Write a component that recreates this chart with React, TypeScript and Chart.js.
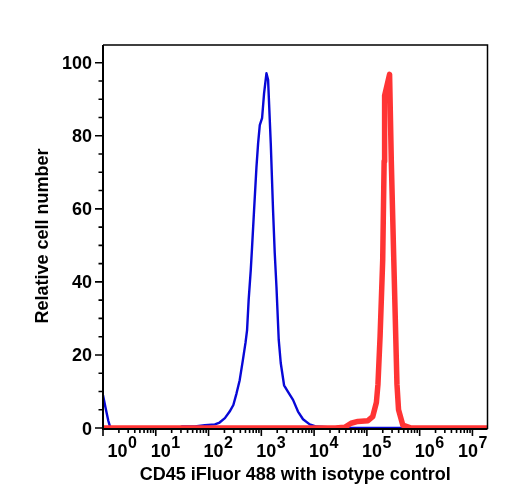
import { useEffect, useRef } from 'react';
import { Chart, registerables } from 'chart.js';

Chart.register(...registerables);

// Blue histogram (CD45 iFluor 488 isotype control) – fluorescence intensity vs relative cell number
const blueX = [1, 1.12, 1.26, 1.35, 1.46, 7.9, 28, 31, 55, 85, 132, 162, 204, 251, 295, 339, 389, 447, 501, 537, 575, 631, 668, 729, 809, 869, 935, 1033, 1127, 1250, 1343, 1510, 1667, 1795, 1936, 2138, 2333, 2698, 3206, 3990, 4955, 6166, 8260, 11040, 18070, 38000, 19300000];
const blueY = [9.0, 5.5, 2.0, 0.5, 0, 0, 0.1, 0.4, 0.4, 0.8, 1.0, 1.5, 2.7, 4.5, 6.3, 9.5, 13.1, 18.6, 23.3, 26.8, 35, 43.3, 49.6, 59.7, 71.5, 77.9, 82.9, 84.8, 91.6, 97.1, 95.3, 77.9, 59.7, 47.9, 38.6, 24.1, 17.8, 11.7, 9.9, 7.7, 4.5, 2.4, 1.0, 0.4, 0.2, 0, 0];

// Red histogram (CD45 stained)
const redX = [1, 25120, 38020, 50120, 67600, 104700, 128800, 151400, 162200, 177800, 199500, 212300, 216800, 269200, 290400, 323600, 371500, 398100, 478600, 691800, 19300000];
const redY = [0, 0, 0.2, 1.3, 1.8, 2.0, 3.1, 7, 12, 25, 46, 73, 91, 96.8, 73, 46, 12, 5, 0.8, 0, 0];

const xDecades = [0, 1, 2, 3, 4, 5, 6, 7];
const xMinorMultipliers = [2, 3, 4, 5, 6, 7, 8, 9];
const yMajorTicks = [0, 20, 40, 60, 80, 100];
const yMinorTicks = [5, 10, 15, 25, 30, 35, 45, 50, 55, 65, 70, 75, 85, 90, 95];

const xTitle = 'CD45 iFluor 488 with isotype control';
const yTitle = 'Relative cell number';

const X_MIN = 1;
const X_MAX = 19300000;
const Y_MIN = -0.27;
const Y_MAX = 104.85;

const FONT = '"Liberation Sans", Arial, Helvetica, sans-serif';

const axesPlugin = {
  id: 'axesDecor',
  afterDatasetsDraw(chart: any) {
    const { ctx, chartArea: a, scales } = chart;
    const xs = scales.x;
    const ys = scales.y;
    ctx.save();
    ctx.strokeStyle = '#000';
    ctx.fillStyle = '#000';

    // frame top/right
    ctx.lineWidth = 1.5;
    ctx.beginPath();
    ctx.moveTo(a.left, a.top);
    ctx.lineTo(a.right, a.top);
    ctx.lineTo(a.right, a.bottom);
    ctx.stroke();

    // axes
    ctx.lineWidth = 2;
    ctx.beginPath();
    ctx.moveTo(a.left, a.top);
    ctx.lineTo(a.left, a.bottom + 1);
    ctx.moveTo(a.left - 1, a.bottom);
    ctx.lineTo(a.right, a.bottom);
    ctx.stroke();

    // x ticks
    ctx.lineWidth = 1.6;
    ctx.beginPath();
    xDecades.forEach((e) => {
      const base = Math.pow(10, e);
      if (base >= X_MIN && base <= X_MAX) {
        const px = xs.getPixelForValue(base);
        ctx.moveTo(px, a.bottom);
        ctx.lineTo(px, a.bottom + 7);
      }
      xMinorMultipliers.forEach((m) => {
        const v = m * base;
        if (v <= X_MAX) {
          const px = xs.getPixelForValue(v);
          ctx.moveTo(px, a.bottom);
          ctx.lineTo(px, a.bottom + 4);
        }
      });
    });
    ctx.stroke();

    // y ticks
    ctx.beginPath();
    yMajorTicks.forEach((v) => {
      const py = ys.getPixelForValue(v);
      ctx.moveTo(a.left, py);
      ctx.lineTo(a.left - 8, py);
    });
    yMinorTicks.forEach((v) => {
      const py = ys.getPixelForValue(v);
      ctx.moveTo(a.left, py);
      ctx.lineTo(a.left - 4.5, py);
    });
    ctx.stroke();

    // y tick labels
    ctx.font = `bold 18px ${FONT}`;
    ctx.textAlign = 'right';
    ctx.textBaseline = 'alphabetic';
    yMajorTicks.forEach((v) => {
      const py = ys.getPixelForValue(v);
      ctx.fillText(String(v), a.left - 11, py + 6.5);
    });

    // x tick labels: 10 with superscript exponent
    ctx.textAlign = 'left';
    xDecades.forEach((e) => {
      const px = xs.getPixelForValue(Math.pow(10, e));
      ctx.font = `bold 18px ${FONT}`;
      const wBase = ctx.measureText('10').width;
      ctx.font = `bold 16px ${FONT}`;
      const wSup = ctx.measureText(String(e)).width;
      const total = wBase + 0.5 + wSup;
      let left = px - 5;
      if (left < a.left + 4.5) left = a.left + 4.5;
      if (left + total > a.right) left = a.right - total;
      ctx.font = `bold 18px ${FONT}`;
      ctx.fillText('10', left, 456.7);
      ctx.font = `bold 16px ${FONT}`;
      ctx.fillText(String(e), left + wBase + 0.5, 448.3);
    });

    // axis titles
    ctx.font = `bold 18px ${FONT}`;
    ctx.textAlign = 'center';
    ctx.fillText(xTitle, (a.left + a.right) / 2, 480);
    ctx.save();
    ctx.translate(48, 236);
    ctx.rotate(-Math.PI / 2);
    ctx.fillText(yTitle, 0, 0);
    ctx.restore();

    ctx.restore();
  },
};

export default function App() {
  const canvasRef = useRef<HTMLCanvasElement | null>(null);

  useEffect(() => {
    if (!canvasRef.current) return;
    const chart = new Chart(canvasRef.current, {
      type: 'line',
      data: {
        datasets: [
          {
            label: 'CD45',
            data: redX.map((x, i) => ({ x, y: redY[i] })),
            borderColor: 'rgb(255, 52, 52)',
            borderWidth: 5.5,
            borderJoinStyle: 'round',
            pointRadius: 0,
            tension: 0,
            fill: false,
          },
          {
            label: 'Isotype control',
            data: blueX.map((x, i) => ({ x, y: blueY[i] })),
            borderColor: 'rgb(8, 8, 215)',
            borderWidth: 2.4,
            borderJoinStyle: 'round',
            pointRadius: 0,
            tension: 0,
            fill: false,
          },
        ],
      },
      options: {
        animation: false,
        responsive: false,
        layout: { padding: { left: 103, top: 45, right: 20.5, bottom: 71 } },
        plugins: { legend: { display: false }, tooltip: { enabled: false } },
        scales: {
          x: { type: 'logarithmic', min: X_MIN, max: X_MAX, display: false },
          y: { type: 'linear', min: Y_MIN, max: Y_MAX, display: false },
        },
      },
      plugins: [axesPlugin],
    });
    return () => chart.destroy();
  }, []);

  return (
    <div style={{ position: 'absolute', left: 0, top: 0, width: 508, height: 500, background: '#fff' }}>
      <canvas ref={canvasRef} width={508} height={500} style={{ display: 'block' }} />
    </div>
  );
}
